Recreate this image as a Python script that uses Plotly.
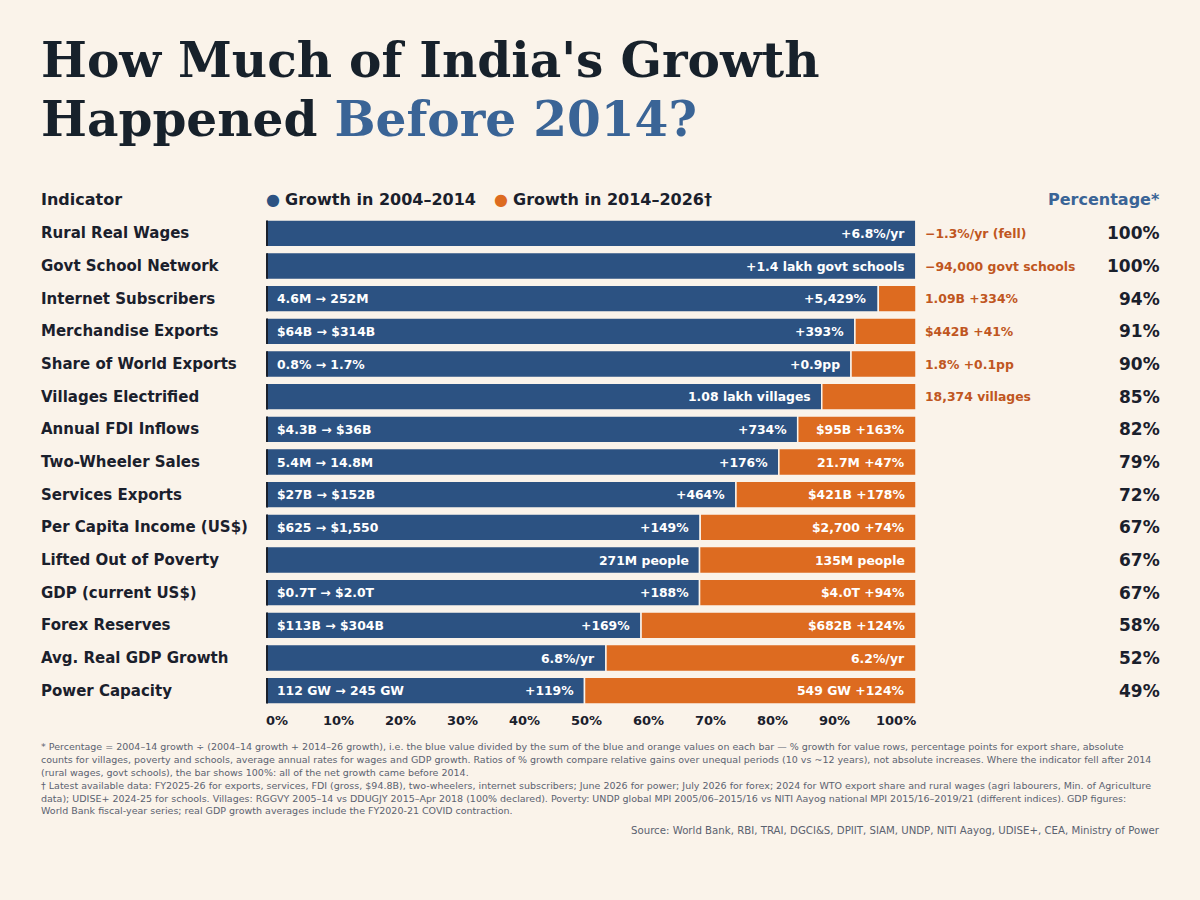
import plotly.graph_objects as go

# values
indicators = ["Rural Real Wages", "Govt School Network", "Internet Subscribers",
              "Merchandise Exports", "Share of World Exports", "Villages Electrified",
              "Annual FDI Inflows", "Two-Wheeler Sales", "Services Exports",
              "Per Capita Income (US$)", "Lifted Out of Poverty", "GDP (current US$)",
              "Forex Reserves", "Avg. Real GDP Growth", "Power Capacity"]
before_2014 = [100, 100, 94.2, 90.6, 90.0, 85.5, 81.8, 78.9, 72.3, 66.8, 66.7, 66.7, 57.7, 52.3, 49.0]
after_2014 = [0, 0, 5.8, 9.4, 10.0, 14.5, 18.2, 21.1, 27.7, 33.2, 33.3, 33.3, 42.3, 47.7, 51.0]
pct_labels = ["100%", "100%", "94%", "91%", "90%", "85%", "82%", "79%", "72%",
              "67%", "67%", "67%", "58%", "52%", "49%"]
blue_start_text = ["", "", "4.6M → 252M", "$64B → $314B", "0.8% → 1.7%", "",
                   "$4.3B → $36B", "5.4M → 14.8M", "$27B → $152B", "$625 → $1,550",
                   "", "$0.7T → $2.0T", "$113B → $304B", "", "112 GW → 245 GW"]
blue_end_text = ["+6.8%/yr", "+1.4 lakh govt schools", "+5,429%", "+393%", "+0.9pp",
                 "1.08 lakh villages", "+734%", "+176%", "+464%", "+149%",
                 "271M people", "+188%", "+169%", "6.8%/yr", "+119%"]
orange_text = ["−1.3%/yr (fell)", "−94,000 govt schools", "1.09B +334%", "$442B +41%",
               "1.8% +0.1pp", "18,374 villages", "$95B +163%", "21.7M +47%",
               "$421B +178%", "$2,700 +74%", "135M people", "$4.0T +94%",
               "$682B +124%", "6.2%/yr", "549 GW +124%"]
orange_inside = [False, False, False, False, False, False, True, True, True,
                 True, True, True, True, True, True]
tick_vals = [0, 10, 20, 30, 40, 50, 60, 70, 80, 90, 100]
tick_text = ["0%", "10%", "20%", "30%", "40%", "50%", "60%", "70%", "80%", "90%", "100%"]

footer_lines = [
    "* Percentage = 2004–14 growth ÷ (2004–14 growth + 2014–26 growth), i.e. the blue value divided by the sum of the blue and orange values on each bar — % growth for value rows, percentage points for export share, absolute",
    "counts for villages, poverty and schools, average annual rates for wages and GDP growth. Ratios of % growth compare relative gains over unequal periods (10 vs ~12 years), not absolute increases. Where the indicator fell after 2014",
    "(rural wages, govt schools), the bar shows 100%: all of the net growth came before 2014.",
    "† Latest available data: FY2025-26 for exports, services, FDI (gross, $94.8B), two-wheelers, internet subscribers; June 2026 for power; July 2026 for forex; 2024 for WTO export share and rural wages (agri labourers, Min. of Agriculture",
    "data); UDISE+ 2024-25 for schools. Villages: RGGVY 2005–14 vs DDUGJY 2015–Apr 2018 (100% declared). Poverty: UNDP global MPI 2005/06–2015/16 vs NITI Aayog national MPI 2015/16–2019/21 (different indices). GDP figures:",
    "World Bank fiscal-year series; real GDP growth averages include the FY2020-21 COVID contraction.",
]
source = "Source: World Bank, RBI, TRAI, DGCI&S, DPIIT, SIAM, UNDP, NITI Aayog, UDISE+, CEA, Ministry of Power"

BG = "#faf3ea"
BLUE = "#2c5282"
ORANGE = "#dd6b20"
DARK = "#1a202c"
TITLE_BLUE = "#3a6496"
LABEL_ORANGE = "#c05621"
GREY = "#5a6270"
SANS = "DejaVu Sans"

W, H = 1200, 900
L, R, T, B = 266, 284, 217, 193


def px_x(x):
    return (x - L) / (W - L - R)


def px_y(y):
    return (H - B - y) / (H - T - B)


fig = go.Figure()
fig.add_trace(go.Bar(y=indicators, x=before_2014, base=0, orientation="h",
                     marker=dict(color=BLUE, line=dict(color=BG, width=1.5)),
                     width=0.82, hoverinfo="skip"))
fig.add_trace(go.Bar(y=indicators, x=after_2014, base=before_2014, orientation="h",
                     marker=dict(color=ORANGE, line=dict(color=BG, width=1.5)),
                     width=0.82, hoverinfo="skip"))
# dark left edge on each bar
fig.add_trace(go.Bar(y=indicators, x=[0.3] * len(indicators), base=0, orientation="h",
                     marker=dict(color=DARK, line=dict(width=0)),
                     width=0.78, hoverinfo="skip"))

ann = []
ann.append(dict(text="<b>How Much of India's Growth</b>", x=px_x(39), y=px_y(60),
                font=dict(family="DejaVu Serif", size=48.6, color="#17212b")))
ann.append(dict(text="<b>Happened <span style='color:%s'>Before 2014?</span></b>" % TITLE_BLUE,
                x=px_x(39), y=px_y(118),
                font=dict(family="DejaVu Serif", size=48.6, color="#17212b")))
ann.append(dict(text="<b>Indicator</b>", x=px_x(39), y=px_y(199),
                font=dict(family=SANS, size=16, color=DARK)))
ann.append(dict(text="<span style='color:%s'>●</span> <b>Growth in 2004–2014</b>" % BLUE,
                x=px_x(264), y=px_y(199), font=dict(family=SANS, size=16, color=DARK)))
ann.append(dict(text="<span style='color:%s'>●</span> <b>Growth in 2014–2026†</b>" % ORANGE,
                x=px_x(492), y=px_y(199), font=dict(family=SANS, size=16, color=DARK)))
ann.append(dict(text="<b>Percentage*</b>", x=px_x(1162), y=px_y(199), xanchor="right",
                font=dict(family=SANS, size=16, color=TITLE_BLUE)))

for i, name in enumerate(indicators):
    ann.append(dict(text="<b>%s</b>" % name, x=px_x(39), y=name, yref="y",
                    font=dict(family=SANS, size=15, color=DARK)))
    ann.append(dict(text="<b>%s</b>" % pct_labels[i], x=px_x(1162), y=name, yref="y",
                    xanchor="right", font=dict(family=SANS, size=17, color=DARK)))
    if blue_start_text[i]:
        ann.append(dict(text="<b>%s</b>" % blue_start_text[i], x=0, xref="x", y=name,
                        yref="y", xshift=9, font=dict(family=SANS, size=12.4, color="white")))
    ann.append(dict(text="<b>%s</b>" % blue_end_text[i], x=before_2014[i], xref="x",
                    y=name, yref="y", xanchor="right", xshift=-9,
                    font=dict(family=SANS, size=12.4, color="white")))
    if orange_inside[i]:
        ann.append(dict(text="<b>%s</b>" % orange_text[i], x=100, xref="x", y=name,
                        yref="y", xanchor="right", xshift=-9,
                        font=dict(family=SANS, size=12.4, color="white")))
    else:
        ann.append(dict(text="<b>%s</b>" % orange_text[i], x=100, xref="x", y=name,
                        yref="y", xanchor="left", xshift=7,
                        font=dict(family=SANS, size=12.4, color=LABEL_ORANGE)))

# axis labels spread edge to edge: first flush left, last flush right
n_ticks = len(tick_vals)
for k, (tv, tt) in enumerate(zip(tick_vals, tick_text)):
    ann.append(dict(text="<b>%s</b>" % tt, x=tv, xref="x", y=px_y(720), xanchor="center",
                    xshift=11 - 31 * k / (n_ticks - 1),
                    font=dict(family=SANS, size=13, color=DARK)))

for k, line in enumerate(footer_lines):
    ann.append(dict(text=line, x=px_x(39), y=px_y(746 + 13 * k),
                    font=dict(family=SANS, size=9.5, color=GREY)))
ann.append(dict(text=source, x=px_x(1162), y=px_y(830), xanchor="right",
                font=dict(family=SANS, size=10.2, color=GREY)))

for a in ann:
    a.setdefault("xref", "paper")
    a.setdefault("yref", "paper")
    a.setdefault("xanchor", "left")
    a.setdefault("yanchor", "middle")
    a["showarrow"] = False

fig.update_layout(
    width=W, height=H,
    barmode="overlay",
    showlegend=False,
    paper_bgcolor=BG, plot_bgcolor=BG,
    margin=dict(l=L, r=R, t=T, b=B, pad=0),
    annotations=ann,
    font=dict(family=SANS, color=DARK),
    xaxis=dict(range=[0, 100], showticklabels=False, showgrid=False,
               zeroline=False, showline=False, ticks="", fixedrange=True),
    yaxis=dict(autorange="reversed", showticklabels=False, showgrid=False,
               zeroline=False, showline=False, ticks="", fixedrange=True),
)

fig.write_html("out.html", config={"displayModeBar": False},
               post_script="document.body.style.margin='0';document.body.style.background='%s';" % BG)
